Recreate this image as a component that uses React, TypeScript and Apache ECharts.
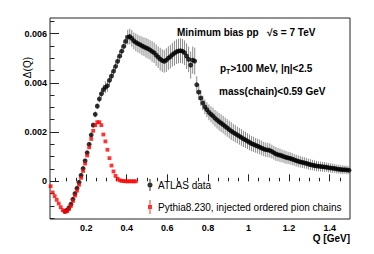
import React, { useEffect, useRef } from 'react';
import * as echarts from 'echarts';

// ATLAS data: bin centres Q [GeV], Delta(Q), uncertainty
const qData = [
  0.095, 0.105, 0.115, 0.125, 0.135, 0.145, 0.155, 0.165, 0.175, 0.185,
  0.195, 0.205, 0.215, 0.225, 0.235, 0.245, 0.255, 0.265, 0.275, 0.285,
  0.295, 0.305, 0.315, 0.325, 0.335, 0.345, 0.355, 0.365, 0.375, 0.385,
  0.395, 0.405, 0.415, 0.425, 0.435, 0.445, 0.455, 0.465, 0.475, 0.485,
  0.495, 0.505, 0.515, 0.525, 0.535, 0.545, 0.555, 0.565, 0.575, 0.585,
  0.595, 0.605, 0.615, 0.625, 0.635, 0.645, 0.655, 0.665, 0.675, 0.685,
  0.695, 0.705, 0.715, 0.725, 0.735, 0.745, 0.755, 0.765, 0.775, 0.785,
  0.795, 0.805, 0.815, 0.825, 0.835, 0.845, 0.855, 0.865, 0.875, 0.885,
  0.895, 0.905, 0.915, 0.925, 0.935, 0.945, 0.955, 0.965, 0.975, 0.985,
  0.995, 1.005, 1.015, 1.025, 1.035, 1.045, 1.055, 1.065, 1.075, 1.085,
  1.095, 1.105, 1.115, 1.125, 1.135, 1.145, 1.155, 1.165, 1.175, 1.185,
  1.195, 1.205, 1.215, 1.225, 1.235, 1.245, 1.255, 1.265, 1.275, 1.285,
  1.295, 1.305, 1.315, 1.325, 1.335, 1.345, 1.355, 1.365, 1.375, 1.385,
  1.395, 1.405, 1.415, 1.425, 1.435, 1.445, 1.455, 1.465, 1.475, 1.485,
  1.495,
];
const deltaData = [
  -0.00122, -0.00118, -0.00108, -0.00093, -0.00073, -0.00050, -0.00028, -0.00004, 0.00024, 0.00052,
  0.00083, 0.00116, 0.00150, 0.00188, 0.00228, 0.00272, 0.00305, 0.00334, 0.00355, 0.00372,
  0.00382, 0.00388, 0.00410, 0.00427, 0.00447, 0.00466, 0.00487, 0.00508, 0.00528, 0.00548,
  0.00568, 0.00585, 0.00588, 0.00580, 0.00570, 0.00564, 0.00559, 0.00555, 0.00550, 0.00546,
  0.00542, 0.00538, 0.00533, 0.00527, 0.00522, 0.00512, 0.00504, 0.00496, 0.00490, 0.00487,
  0.00492, 0.00500, 0.00506, 0.00514, 0.00520, 0.00526, 0.00529, 0.00530, 0.00528, 0.00522,
  0.00508, 0.00495, 0.00472, 0.00492, 0.00488, 0.00392, 0.00362, 0.00338, 0.00318, 0.00302,
  0.00291, 0.00280, 0.00272, 0.00265, 0.00256, 0.00249, 0.00242, 0.00236, 0.00230, 0.00223,
  0.00217, 0.00210, 0.00204, 0.00198, 0.00193, 0.00188, 0.00183, 0.00178, 0.00172, 0.00168,
  0.00163, 0.00158, 0.00153, 0.00150, 0.00146, 0.00143, 0.00139, 0.00135, 0.00131, 0.00128,
  0.00127, 0.00125, 0.00121, 0.00116, 0.00111, 0.00108, 0.00106, 0.00103, 0.00100, 0.00097,
  0.00095, 0.00093, 0.00090, 0.00087, 0.00084, 0.00081, 0.00079, 0.00077, 0.00075, 0.00073,
  0.00070, 0.00068, 0.00066, 0.00064, 0.00062, 0.00061, 0.00060, 0.00059, 0.00058, 0.00057,
  0.00055, 0.00054, 0.00053, 0.00052, 0.00050, 0.00049, 0.00048, 0.00047, 0.00047, 0.00046,
  0.00045,
];
const errData = [
  0.00008, 0.00008, 0.00008, 0.00008, 0.00008, 0.00008, 0.00008, 0.00008, 0.00008, 0.00008,
  0.00008, 0.00008, 0.00008, 0.00010, 0.00010, 0.00012, 0.00012, 0.00014, 0.00016, 0.00020,
  0.00024, 0.00024, 0.00020, 0.00018, 0.00018, 0.00018, 0.00020, 0.00020, 0.00022, 0.00024,
  0.00026, 0.00030, 0.00032, 0.00034, 0.00034, 0.00036, 0.00036, 0.00036, 0.00038, 0.00038,
  0.00040, 0.00040, 0.00040, 0.00042, 0.00042, 0.00044, 0.00044, 0.00046, 0.00046, 0.00046,
  0.00048, 0.00048, 0.00048, 0.00048, 0.00050, 0.00050, 0.00050, 0.00050, 0.00050, 0.00050,
  0.00052, 0.00052, 0.00055, 0.00055, 0.00055, 0.00035, 0.00032, 0.00032, 0.00030, 0.00030,
  0.00030, 0.00032, 0.00032, 0.00034, 0.00034, 0.00035, 0.00036, 0.00036, 0.00036, 0.00036,
  0.00036, 0.00036, 0.00036, 0.00035, 0.00035, 0.00034, 0.00034, 0.00034, 0.00033, 0.00033,
  0.00032, 0.00032, 0.00031, 0.00031, 0.00030, 0.00030, 0.00030, 0.00030, 0.00029, 0.00029,
  0.00029, 0.00029, 0.00028, 0.00028, 0.00028, 0.00027, 0.00027, 0.00026, 0.00026, 0.00026,
  0.00025, 0.00025, 0.00025, 0.00024, 0.00024, 0.00024, 0.00023, 0.00023, 0.00023, 0.00022,
  0.00022, 0.00022, 0.00021, 0.00021, 0.00021, 0.00020, 0.00020, 0.00020, 0.00020, 0.00019,
  0.00019, 0.00019, 0.00019, 0.00018, 0.00018, 0.00018, 0.00018, 0.00018, 0.00017, 0.00017,
  0.00017,
];

// Pythia8.230 with injected ordered pion chains
const qMC = [
  0.025, 0.035, 0.045, 0.055, 0.065, 0.075, 0.085, 0.095, 0.105, 0.115,
  0.125, 0.135, 0.145, 0.155, 0.165, 0.175, 0.185, 0.195, 0.205, 0.215,
  0.225, 0.235, 0.245, 0.255, 0.265, 0.275, 0.285, 0.295, 0.305, 0.315,
  0.325, 0.335, 0.345, 0.355, 0.365, 0.375, 0.385, 0.395, 0.405, 0.415,
  0.425, 0.435, 0.445,
];
const deltaMC = [
  -0.00020, -0.00045, -0.00060, -0.00075, -0.00090, -0.00105, -0.00117, -0.00123, -0.00122, -0.00113,
  -0.00100, -0.00080, -0.00058, -0.00038, -0.00014, 0.00014, 0.00042, 0.00072, 0.00105, 0.00138,
  0.00172, 0.00205, 0.00228, 0.00240, 0.00240, 0.00228, 0.00190, 0.00162, 0.00128, 0.00094,
  0.00064, 0.00040, 0.00022, 0.00010, 0.00004, 0.00002, 0.00001, 0.00000, 0.00000, 0.00000,
  0.00000, 0.00000, 0.00000,
];

const xMajorTicks = [0.2, 0.4, 0.6, 0.8, 1.0, 1.2, 1.4];
const xMinorTicks = [
  0.05, 0.1, 0.15, 0.25, 0.3, 0.35, 0.45, 0.5, 0.55, 0.65, 0.7, 0.75, 0.85, 0.9, 0.95,
  1.05, 1.1, 1.15, 1.25, 1.3, 1.35, 1.45,
];
const yMajorTicks = [0, 0.002, 0.004, 0.006];
const yMinorTicks = [
  -0.0015, -0.001, -0.0005, 0.0005, 0.001, 0.0015, 0.0025, 0.003, 0.0035, 0.0045, 0.005, 0.0055, 0.0065,
];

const FONT = '"Liberation Sans", Arial, Helvetica, sans-serif';
const X_MIN = 0.022;
const X_MAX = 1.5;
const Y_MIN = -0.00153;
const Y_MAX = 0.00663;

export default function App() {
  const ref = useRef<HTMLDivElement>(null);

  useEffect(() => {
    document.body.style.margin = '0';
    const chart = echarts.init(ref.current!, null, { renderer: 'svg' });

    const dataPts = qData.map((q, i) => [q, deltaData[i], errData[i]]);
    const mcPts = qMC.map((q, i) => [q, deltaMC[i]]);

    const xBase = {
      type: 'value',
      min: X_MIN,
      max: X_MAX,
      splitLine: { show: false },
      axisLine: { show: false },
    };
    const yBase = {
      type: 'value',
      min: Y_MIN,
      max: Y_MAX,
      splitLine: { show: false },
      axisLine: { show: false },
    };

    chart.setOption({
      animation: false,
      textStyle: { fontFamily: FONT },
      grid: {
        left: 50,
        top: 18,
        right: 24,
        bottom: 35,
        show: true,
        borderColor: '#222',
        borderWidth: 1,
      },
      xAxis: [
        {
          ...xBase,
          position: 'bottom',
          axisTick: {
            inside: true,
            length: 7,
            customValues: xMajorTicks,
            lineStyle: { color: '#222', width: 1 },
          },
          axisLabel: {
            customValues: xMajorTicks,
            margin: 4,
            fontSize: 9,
            fontWeight: 'bold',
            color: '#000',
            fontFamily: FONT,
            formatter: (v: number) => (Math.abs(v - 1) < 1e-9 ? '1' : String(+v.toFixed(1))),
          },
        },
        {
          ...xBase,
          position: 'bottom',
          axisTick: {
            inside: true,
            length: 3.5,
            customValues: xMinorTicks,
            lineStyle: { color: '#222', width: 1 },
          },
          axisLabel: { show: false },
        },
      ],
      yAxis: [
        {
          ...yBase,
          position: 'left',
          axisTick: {
            inside: true,
            length: 9,
            customValues: yMajorTicks,
            lineStyle: { color: '#222', width: 1 },
          },
          axisLabel: {
            customValues: yMajorTicks,
            margin: 3,
            fontSize: 9,
            fontWeight: 'bold',
            color: '#000',
            fontFamily: FONT,
            formatter: (v: number) => (v === 0 ? '0' : v.toFixed(3)),
          },
        },
        {
          ...yBase,
          position: 'left',
          axisTick: {
            inside: true,
            length: 4.5,
            customValues: yMinorTicks,
            lineStyle: { color: '#222', width: 1 },
          },
          axisLabel: { show: false },
        },
      ],
      legend: {
        orient: 'vertical',
        left: 142,
        top: 174,
        itemWidth: 6,
        itemHeight: 14,
        itemGap: 9,
        itemStyle: { borderWidth: 0 },
        textStyle: { fontSize: 10, color: '#000', fontFamily: FONT },
        data: [
          {
            name: 'ATLAS data',
            icon: 'path://M0,7L6,7M2.5,1h1v12h-1zM3,4.5a2.5,2.5 0 1,1 0,5a2.5,2.5 0 1,1 0,-5z',
          },
          {
            name: 'Pythia8.230, injected ordered pion chains',
            icon: 'path://M0,7L6,7M2.5,0h1v14h-1zM1,5h4v4h-4z',
          },
        ],
      },
      series: [
        {
          name: 'ATLAS data errors',
          type: 'custom',
          xAxisIndex: 0,
          yAxisIndex: 0,
          data: dataPts,
          encode: { x: 0, y: 1 },
          z: 1,
          renderItem: (params: any, api: any) => {
            const x = api.value(0);
            const y = api.value(1);
            const e = api.value(2);
            const top = api.coord([x, y + e]);
            const bot = api.coord([x, y - e]);
            return {
              type: 'line',
              shape: { x1: top[0], y1: top[1], x2: bot[0], y2: bot[1] },
              style: { stroke: '#8a8a8a', lineWidth: 1 },
            };
          },
        },
        {
          name: 'ATLAS data',
          type: 'scatter',
          xAxisIndex: 0,
          yAxisIndex: 0,
          data: dataPts,
          symbol: 'circle',
          symbolSize: 4.8,
          itemStyle: { color: '#000' },
          z: 2,
        },
        {
          name: 'Pythia8.230, injected ordered pion chains',
          type: 'scatter',
          xAxisIndex: 0,
          yAxisIndex: 0,
          data: mcPts,
          symbol: 'rect',
          symbolSize: 3.8,
          itemStyle: { color: '#ff0000' },
          z: 3,
        },
      ],
      graphic: [
        {
          type: 'text',
          x: 177,
          y: 32,
          style: {
            text: 'Minimum bias pp   \u221As = 7 TeV',
            font: `bold 10px ${FONT}`,
            fill: '#000',
            textVerticalAlign: 'middle',
          },
        },
        {
          type: 'text',
          x: 220,
          y: 68,
          style: {
            text: '{b|p}{s|T}{b|>100 MeV, |\u03B7|<2.5}',
            fill: '#000',
            textVerticalAlign: 'middle',
            rich: {
              b: { fontSize: 10, fontWeight: 'bold', fontFamily: FONT, lineHeight: 14, verticalAlign: 'middle' },
              s: { fontSize: 7, fontWeight: 'bold', fontFamily: FONT, lineHeight: 14, verticalAlign: 'bottom', padding: [6, 0, 0, 0] },
            },
          },
        },
        {
          type: 'text',
          x: 219,
          y: 91,
          style: {
            text: 'mass(chain)<0.59 GeV',
            font: `bold 10px ${FONT}`,
            fill: '#000',
            textVerticalAlign: 'middle',
          },
        },
        {
          type: 'text',
          x: 27,
          y: 57,
          rotation: Math.PI / 2,
          style: {
            text: '\u0394(Q)',
            font: `10px ${FONT}`,
            fill: '#000',
            textAlign: 'right',
            textVerticalAlign: 'middle',
          },
        },
        {
          type: 'text',
          x: 350,
          y: 238,
          style: {
            text: 'Q [GeV]',
            font: `bold 10px ${FONT}`,
            fill: '#000',
            textAlign: 'right',
            textVerticalAlign: 'middle',
          },
        },
      ],
    });

    return () => chart.dispose();
  }, []);

  return <div ref={ref} style={{ width: 374, height: 254 }} />;
}
